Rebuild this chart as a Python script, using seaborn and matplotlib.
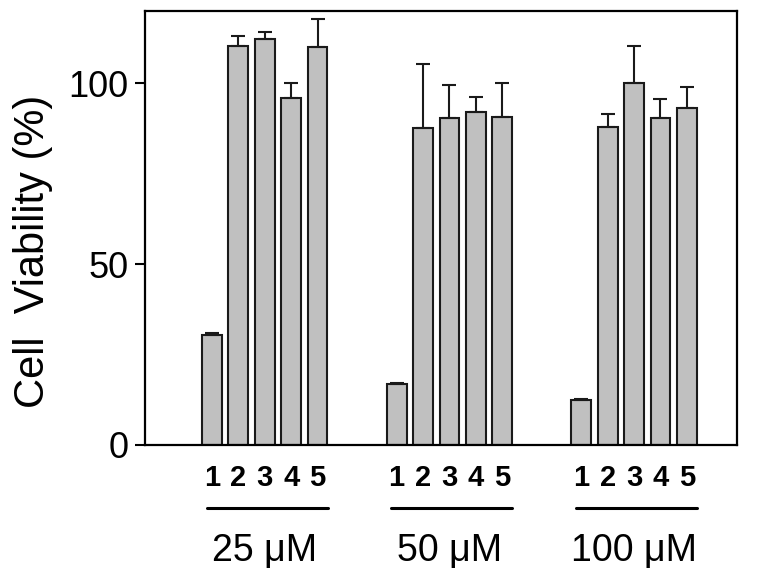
import numpy as np
import pandas as pd
import matplotlib
matplotlib.use("Agg")
import matplotlib.pyplot as plt
import seaborn as sns

# values (mean, upper error)
groups = ["25 μM", "50 μM", "100 μM"]
compounds = ["1", "2", "3", "4", "5"]
viability_25 = [30.4, 110.2, 112.2, 95.8, 109.9]
err_25 = [0.6, 3.0, 1.9, 4.4, 7.9]
viability_50 = [16.8, 87.6, 90.4, 92.0, 90.7]
err_50 = [0.3, 17.7, 9.0, 4.1, 9.3]
viability_100 = [12.5, 88.0, 100.2, 90.4, 93.3]
err_100 = [0.3, 3.6, 10.0, 5.3, 5.8]

GROUP_STEP = 7  # 5 bars + gap of 2 slots

rows = []
for g, (vals, errs) in enumerate([(viability_25, err_25),
                                  (viability_50, err_50),
                                  (viability_100, err_100)]):
    for i, c in enumerate(compounds):
        rows.append({"group": groups[g], "compound": c,
                     "pos": g * GROUP_STEP + i,
                     "viability": vals[i], "err": errs[i]})
df = pd.DataFrame(rows)

sns.set_style("ticks")
plt.rcParams["font.family"] = ["Liberation Sans", "DejaVu Sans"]
plt.rcParams["text.color"] = "black"
plt.rcParams["xtick.color"] = "black"
plt.rcParams["ytick.color"] = "black"
plt.rcParams["axes.labelcolor"] = "black"

fig = plt.figure(figsize=(7.66, 5.71), dpi=100)
ax = fig.add_axes([0.1893, 0.2207, 0.7728, 0.7601])

sns.barplot(data=df, x="pos", y="viability", native_scale=True, width=0.75,
            color="#c0c0c0", saturation=1, edgecolor="#1a1a1a", linewidth=1.5,
            errorbar=None, ax=ax)

# upper-only error bars
ax.errorbar(df["pos"], df["viability"], yerr=[np.zeros(len(df)), df["err"]],
            fmt="none", ecolor="#1a1a1a", elinewidth=1.5, capsize=4.7,
            capthick=1.5, zorder=1)

ax.set_xlim(-2.54, 19.9)
ax.set_ylim(0, 120)
ax.set_yticks([0, 50, 100])
ax.tick_params(axis="y", labelsize=26, length=7, width=1.5, pad=5)
ax.set_xticks(df["pos"])
ax.set_xticklabels(df["compound"], fontsize=21, fontweight="bold")
ax.tick_params(axis="x", length=0, pad=14)
ax.set_xlabel("")
ax.set_ylabel("Cell  Viability (%)", fontsize=30, va="center")
ax.yaxis.set_label_coords(-0.19, 0.445)

for s in ax.spines.values():
    s.set_visible(True)
    s.set_linewidth(1.6)
    s.set_color("black")

# group underlines and concentration labels
trans = ax.get_xaxis_transform()
for g, name in enumerate(groups):
    sub = df[df["group"] == name]
    x0, x1 = sub["pos"].min(), sub["pos"].max()
    ax.plot([x0 - 0.2, x1 + 0.38], [-0.145, -0.145], color="black", lw=2.2,
            transform=trans, clip_on=False)
    ax.text((x0 + x1) / 2, -0.267, name, fontsize=27, ha="center",
            va="baseline", transform=trans)

fig.savefig("out.png", dpi=100)
